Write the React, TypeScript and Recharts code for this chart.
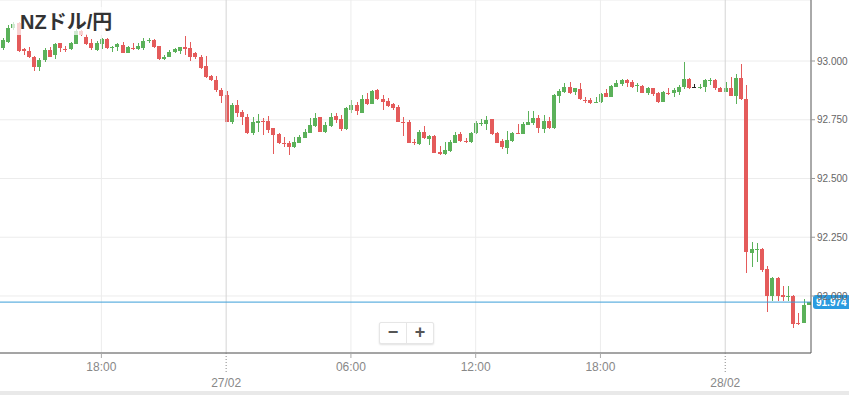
import React from 'react';
import { ComposedChart, Bar, XAxis, YAxis, CartesianGrid, ReferenceLine } from 'recharts';

// 15-minute candles, 26/02 13:15 → 28/02 04:00
const START_DAY = 26;
const START_MIN = 13 * 60 + 15;
const STEP_MIN = 15;

const OPEN = [
  93.055, 93.081, 93.140, 93.162, 93.051, 93.043, 93.017, 92.974, 93.004, 93.047,
  93.026, 93.077, 93.051, 93.051, 93.072, 93.128, 93.102, 93.077, 93.047, 93.072,
  93.094, 93.055, 93.060, 93.068, 93.034, 93.055, 93.051, 93.055, 93.085, 93.089,
  93.064, 93.009, 93.017, 93.038, 93.043, 93.060, 93.055, 93.034, 93.017, 92.979,
  92.936, 92.919, 92.877, 92.855, 92.740, 92.813, 92.783, 92.762, 92.694, 92.736,
  92.745, 92.745, 92.715, 92.689, 92.651, 92.651, 92.634, 92.651, 92.672, 92.694,
  92.723, 92.762, 92.698, 92.723, 92.766, 92.753, 92.711, 92.791, 92.813, 92.779,
  92.838, 92.817, 92.877, 92.838, 92.830, 92.817, 92.804, 92.740, 92.740, 92.655,
  92.647, 92.698, 92.668, 92.681, 92.613, 92.604, 92.617, 92.651, 92.689, 92.660,
  92.655, 92.694, 92.732, 92.732, 92.753, 92.694, 92.660, 92.630, 92.660, 92.694,
  92.689, 92.728, 92.736, 92.757, 92.711, 92.745, 92.715, 92.851, 92.868, 92.889,
  92.868, 92.881, 92.834, 92.834, 92.821, 92.826, 92.864, 92.847, 92.889, 92.902,
  92.919, 92.911, 92.894, 92.894, 92.864, 92.885, 92.864, 92.826, 92.864, 92.864,
  92.868, 92.889, 92.923, 92.889, 92.885, 92.889, 92.915, 92.919, 92.885, 92.868,
  92.885, 92.851, 92.928, 92.838, 92.183, 92.196, 92.200, 92.115, 92.000, 92.077,
  92.004, 91.996, 92.000, 91.885, 91.885, 91.962,
];

const HIGH = [
  93.098, 93.153, 93.166, 93.166, 93.055, 93.060, 93.021, 93.013, 93.055, 93.060,
  93.077, 93.077, 93.064, 93.081, 93.136, 93.132, 93.115, 93.094, 93.085, 93.098,
  93.098, 93.064, 93.077, 93.081, 93.064, 93.077, 93.077, 93.098, 93.098, 93.094,
  93.064, 93.026, 93.047, 93.055, 93.060, 93.106, 93.081, 93.038, 93.026, 93.021,
  92.940, 92.936, 92.885, 92.872, 92.821, 92.834, 92.791, 92.774, 92.762, 92.774,
  92.757, 92.766, 92.715, 92.694, 92.677, 92.660, 92.677, 92.685, 92.711, 92.757,
  92.779, 92.762, 92.740, 92.779, 92.779, 92.770, 92.804, 92.834, 92.826, 92.855,
  92.864, 92.877, 92.881, 92.855, 92.843, 92.821, 92.813, 92.762, 92.749, 92.668,
  92.706, 92.723, 92.685, 92.685, 92.638, 92.655, 92.664, 92.698, 92.698, 92.672,
  92.698, 92.745, 92.753, 92.766, 92.753, 92.698, 92.668, 92.702, 92.698, 92.732,
  92.740, 92.787, 92.787, 92.770, 92.770, 92.762, 92.860, 92.881, 92.906, 92.911,
  92.885, 92.906, 92.847, 92.843, 92.847, 92.864, 92.881, 92.898, 92.919, 92.923,
  92.923, 92.919, 92.906, 92.898, 92.889, 92.885, 92.868, 92.872, 92.885, 92.885,
  92.898, 92.996, 92.928, 92.902, 92.902, 92.923, 92.928, 92.923, 92.889, 92.911,
  92.932, 92.945, 92.987, 92.898, 92.230, 92.226, 92.204, 92.128, 92.081, 92.081,
  92.043, 92.043, 92.004, 91.928, 91.987, 91.975,
];

const LOW = [
  93.047, 93.077, 93.132, 93.038, 93.026, 93.013, 92.957, 92.957, 92.996, 93.017,
  93.009, 93.038, 93.038, 93.047, 93.072, 93.106, 93.068, 93.047, 93.043, 93.051,
  93.051, 93.038, 93.043, 93.034, 93.034, 93.047, 93.047, 93.047, 93.077, 93.055,
  93.004, 93.004, 93.017, 93.034, 93.030, 93.026, 93.000, 93.009, 92.966, 92.928,
  92.915, 92.868, 92.821, 92.740, 92.732, 92.762, 92.728, 92.689, 92.685, 92.698,
  92.685, 92.694, 92.604, 92.647, 92.634, 92.600, 92.630, 92.651, 92.672, 92.694,
  92.719, 92.698, 92.694, 92.719, 92.736, 92.702, 92.706, 92.779, 92.770, 92.779,
  92.813, 92.817, 92.834, 92.791, 92.804, 92.791, 92.740, 92.681, 92.651, 92.643,
  92.643, 92.668, 92.643, 92.609, 92.600, 92.600, 92.613, 92.651, 92.655, 92.651,
  92.651, 92.689, 92.723, 92.706, 92.685, 92.651, 92.626, 92.604, 92.655, 92.689,
  92.689, 92.728, 92.728, 92.694, 92.694, 92.711, 92.711, 92.821, 92.864, 92.860,
  92.855, 92.834, 92.821, 92.817, 92.821, 92.821, 92.847, 92.847, 92.889, 92.894,
  92.889, 92.885, 92.868, 92.864, 92.855, 92.851, 92.821, 92.826, 92.855, 92.847,
  92.855, 92.881, 92.881, 92.889, 92.881, 92.868, 92.898, 92.877, 92.868, 92.868,
  92.851, 92.817, 92.834, 92.098, 92.123, 92.145, 92.102, 91.932, 91.979, 91.979,
  91.979, 91.979, 91.864, 91.877, 91.885, 91.962,
];

const CLOSE = [
  93.089, 93.140, 93.157, 93.043, 93.043, 93.017, 92.974, 93.004, 93.047, 93.017,
  93.072, 93.055, 93.047, 93.077, 93.128, 93.111, 93.072, 93.055, 93.077, 93.094,
  93.055, 93.060, 93.072, 93.034, 93.060, 93.051, 93.064, 93.085, 93.089, 93.060,
  93.009, 93.017, 93.038, 93.051, 93.060, 93.051, 93.017, 93.017, 92.970, 92.932,
  92.919, 92.877, 92.851, 92.740, 92.813, 92.779, 92.762, 92.694, 92.740, 92.745,
  92.740, 92.706, 92.685, 92.651, 92.647, 92.634, 92.655, 92.677, 92.698, 92.728,
  92.757, 92.698, 92.728, 92.762, 92.749, 92.711, 92.800, 92.813, 92.787, 92.838,
  92.817, 92.872, 92.838, 92.826, 92.809, 92.800, 92.740, 92.736, 92.651, 92.651,
  92.698, 92.672, 92.681, 92.609, 92.604, 92.621, 92.655, 92.685, 92.660, 92.655,
  92.694, 92.736, 92.736, 92.749, 92.689, 92.651, 92.634, 92.664, 92.694, 92.689,
  92.732, 92.740, 92.757, 92.715, 92.745, 92.715, 92.855, 92.872, 92.889, 92.864,
  92.885, 92.838, 92.830, 92.821, 92.826, 92.860, 92.847, 92.894, 92.906, 92.919,
  92.906, 92.889, 92.898, 92.864, 92.885, 92.860, 92.826, 92.868, 92.860, 92.877,
  92.889, 92.923, 92.885, 92.889, 92.889, 92.919, 92.919, 92.885, 92.868, 92.885,
  92.851, 92.928, 92.838, 92.187, 92.200, 92.200, 92.111, 92.000, 92.077, 92.000,
  91.996, 92.000, 91.881, 91.881, 91.962, 91.974,
];

const LAST_PRICE = 91.974;
const Y_TICKS = [92, 92.25, 92.5, 92.75, 93];
const Y_DOMAIN = [91.7574, 93.2596];

// category key → label shown on the axis
const X_TICKS = [
  { key: '26/02 18:00', label: '18:00', date: false },
  { key: '27/02 00:00', label: '27/02', date: true },
  { key: '27/02 06:00', label: '06:00', date: false },
  { key: '27/02 12:00', label: '12:00', date: false },
  { key: '27/02 18:00', label: '18:00', date: false },
  { key: '28/02 00:00', label: '28/02', date: true },
];

const GREEN = '#5bb15a';
const RED = '#e45b5b';
const FONT = "'Liberation Sans', Arial, 'Noto Sans CJK JP', sans-serif";

const pad = (n: number) => String(n).padStart(2, '0');

const data = OPEN.map((open, i) => {
  const m = START_MIN + i * STEP_MIN;
  const day = START_DAY + Math.floor(m / 1440);
  const mm = m % 1440;
  return {
    t: `${pad(day)}/02 ${pad(Math.floor(mm / 60))}:${pad(mm % 60)}`,
    open,
    high: HIGH[i],
    low: LOW[i],
    close: CLOSE[i],
  };
});

function Candle(props: any) {
  const { x, y, width, height, payload } = props;
  if (!payload || height == null) return null;
  const { open, close, high, low } = payload;
  const top = Math.min(y, y + height);
  const h = Math.abs(height);
  const span = high - low;
  const toY = (v: number) => (span > 0 ? top + ((high - v) / span) * h : top);
  const color = close > open ? GREEN : close < open ? RED : '#222';
  const left = Math.round(x + width / 2) - 2;
  const bTop = Math.round(toY(Math.max(open, close)));
  const bBot = Math.round(toY(Math.min(open, close)));
  return (
    <g>
      <rect x={left + 2} y={Math.round(top)} width={1} height={Math.max(1, Math.round(h))} fill={color} />
      <rect x={left} y={bTop} width={4} height={Math.max(1, bBot - bTop)} fill={color} />
    </g>
  );
}

function TimeTick(props: any) {
  const { x, y, payload } = props;
  const tick = X_TICKS.find(t => t.key === payload.value);
  if (!tick) return null;
  if (tick.date) {
    return (
      <g>
        <line x1={x} y1={y} x2={x} y2={y + 20} stroke="#888" strokeDasharray="1 2" />
        <text x={x} y={y + 34} textAnchor="middle" fill="#888" fontSize={12} fontFamily={FONT}>{tick.label}</text>
      </g>
    );
  }
  return (
    <g>
      <line x1={x} y1={y} x2={x} y2={y + 5} stroke="#aaa" />
      <text x={x} y={y + 18} textAnchor="middle" fill="#888" fontSize={12} fontFamily={FONT}>{tick.label}</text>
    </g>
  );
}

function PriceTag(props: any) {
  const vb = props.viewBox;
  if (!vb) return null;
  const x = vb.x + vb.width + 2;
  return (
    <g>
      <rect x={x} y={vb.y - 7} width={38} height={14} rx={3} fill="#2b9be0" />
      <text x={x + 3} y={vb.y + 4} fill="#fff" fontSize={10} fontWeight={700} fontFamily={FONT}>{LAST_PRICE.toFixed(3)}</text>
    </g>
  );
}

export default function App() {
  return (
    <div style={{ position: 'absolute', left: 0, top: 0, width: 849, height: 395, background: '#fff', fontFamily: FONT }}>
      <ComposedChart width={849} height={395} data={data} margin={{ top: 0, right: 0, bottom: 0, left: 0 }}>
        <CartesianGrid vertical={false} stroke="#ececec" />
        {X_TICKS.map(t => (
          <ReferenceLine key={t.key} x={t.key} stroke={t.date ? '#d4d4d4' : '#ececec'} />
        ))}
        <XAxis
          dataKey="t"
          type="category"
          interval={0}
          height={42}
          tickSize={0}
          tickMargin={0}
          tickLine={false}
          axisLine={{ stroke: '#555' }}
          tick={<TimeTick />}
        />
        <YAxis
          orientation="right"
          type="number"
          width={38}
          domain={Y_DOMAIN}
          allowDataOverflow
          ticks={Y_TICKS}
          interval={0}
          tickSize={4}
          tickMargin={2}
          tickLine={{ stroke: '#999' }}
          axisLine={{ stroke: '#555' }}
          tick={{ fill: '#666', fontSize: 10, fontFamily: FONT, textAnchor: 'start' }}
          tickFormatter={(v: number) => v.toFixed(3)}
        />
        <Bar
          dataKey={(d: any) => [d.low, d.high]}
          barSize={4}
          shape={(p: any) => <Candle {...p} />}
          isAnimationActive={false}
        />
        <ReferenceLine y={LAST_PRICE} stroke="#3b9ed8" label={<PriceTag />} />
      </ComposedChart>

      <div style={{ position: 'absolute', left: 12, top: 7, width: 102, height: 28, background: 'rgba(255,255,255,0.72)' }} />
      <div style={{ position: 'absolute', left: 20, top: 8, fontSize: 20, fontWeight: 700, color: '#333', lineHeight: '28px', whiteSpace: 'nowrap' }}>
        NZドル/円
      </div>

      <div style={{
        position: 'absolute', left: 379, top: 322, width: 53, height: 20, display: 'flex',
        background: '#fff', border: '1px solid #e6e6e6', borderRadius: 2, boxShadow: '0 1px 2px rgba(0,0,0,0.12)',
      }}>
        <div style={{ flex: 1, textAlign: 'center', fontSize: 18, fontWeight: 700, color: '#555', lineHeight: '19px', borderRight: '1px solid #e6e6e6' }}>−</div>
        <div style={{ flex: 1, textAlign: 'center', fontSize: 18, fontWeight: 700, color: '#555', lineHeight: '19px' }}>+</div>
      </div>

      <div style={{ position: 'absolute', left: 0, top: 391, width: 849, height: 4, background: '#e9e9e9' }} />
    </div>
  );
}
